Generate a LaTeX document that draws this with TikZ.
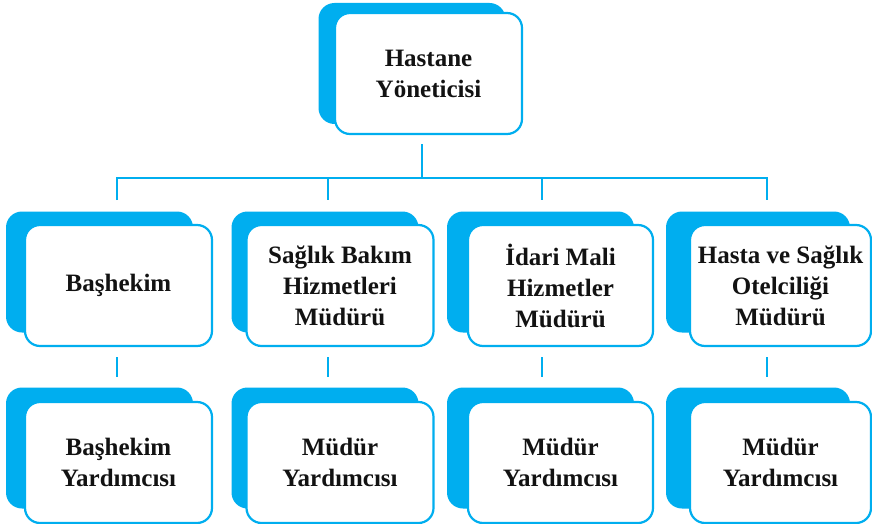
\documentclass[tikz,border=0pt]{standalone}
\usepackage{fontspec}
\setmainfont{Liberation Serif}
\definecolor{orgblue}{HTML}{00AEEF}
\begin{document}
\begin{tikzpicture}[x=1pt,y=-1pt,
  shadowbox/.style={fill=orgblue,rounded corners=16pt,inner sep=0pt,
    minimum width=187pt,minimum height=121pt},
  unitbox/.style={draw=orgblue,line width=2.2pt,fill=white,rounded corners=15pt,
    inner sep=0pt,minimum width=187pt,minimum height=121pt,align=center,
    text=black!93,font=\bfseries\fontsize{25}{31}\selectfont},
  link/.style={draw=orgblue,line width=2.6pt}]
\useasboundingbox (0,0) rectangle (872,524);

% top level
\node[shadowbox] (s0) at (412,63.5) {};
\node[unitbox] (top) at (428.5,73.5) {Hastane\\Yöneticisi};

% second row shadows and boxes
\node[shadowbox] (s1) at (99.5,272) {};
\node[shadowbox] (s2) at (325,272) {};
\node[shadowbox] (s3) at (540.5,272) {};
\node[shadowbox,minimum width=184pt] (s4) at (758,272) {};
\node[unitbox] (a1) at (118.5,285.5) {Başhekim};
\node[unitbox] (a2) at (340,285.5) {Sağlık Bakım\\Hizmetleri\\Müdürü};
\node[unitbox,minimum width=185pt] (a3) at (560.5,285.5) {İdari Mali\\Hizmetler\\Müdürü};
\node[unitbox,minimum width=181pt] (a4) at (780.5,285.5) {Hasta ve Sağlık\\Otelciliği\\Müdürü};

% third row shadows and boxes
\node[shadowbox] (t1) at (99.5,448) {};
\node[shadowbox] (t2) at (325,448) {};
\node[shadowbox] (t3) at (540.5,448) {};
\node[shadowbox,minimum width=184pt] (t4) at (758,448) {};
\node[unitbox] (b1) at (118.5,462.5) {Başhekim\\Yardımcısı};
\node[unitbox] (b2) at (340,462.5) {Müdür\\Yardımcısı};
\node[unitbox,minimum width=185pt] (b3) at (560.5,462.5) {Müdür\\Yardımcısı};
\node[unitbox,minimum width=181pt] (b4) at (780.5,462.5) {Müdür\\Yardımcısı};

% connector end points
\coordinate (root) at (422,144);
\coordinate (hub) at (422,178);
\coordinate (d1) at (117,200);
\coordinate (d2) at (328,200);
\coordinate (d3) at (542,200);
\coordinate (d4) at (767,200);
\coordinate (u1) at (117,357); \coordinate (v1) at (117,377);
\coordinate (u2) at (328,357); \coordinate (v2) at (328,377);
\coordinate (u3) at (542,357); \coordinate (v3) at (542,377);
\coordinate (u4) at (767,357); \coordinate (v4) at (767,377);

% connectors
\draw[link] (root) -- (hub);
\draw[link] (d1) |- (hub) -| (d4);
\draw[link] (hub) -| (d2);
\draw[link] (hub) -| (d3);
\foreach \i in {1,2,3,4} \draw[link] (u\i) -- (v\i);
\end{tikzpicture}
\end{document}
